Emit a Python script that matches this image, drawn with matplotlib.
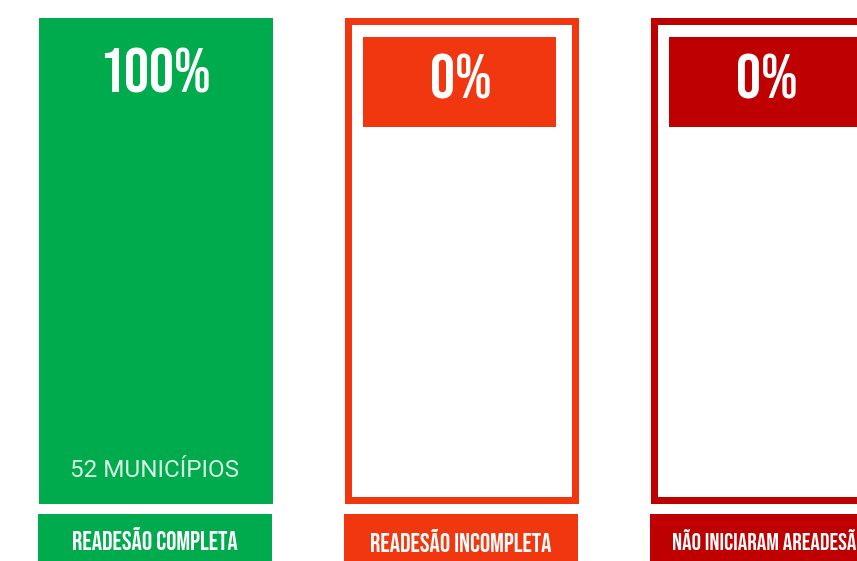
import matplotlib
matplotlib.use('Agg')
import matplotlib.pyplot as plt
from matplotlib.patches import Rectangle

# ---- data ----
categories = ['READESÃO COMPLETA', 'READESÃO INCOMPLETA', 'NÃO INICIARAM AREADESÃO']
percentages = [100, 0, 0]
pct_labels = ['100%', '0%', '0%']
count_labels = ['52 MUNICÍPIOS', '', '']
colors = ['#00AB4E', '#F0370F', '#BE0000']

# ---- layout (pixels) ----
W, H = 857, 561
panel_left = [38, 344, 650]
panel_w = 234
top, bottom = 17, 503
border = 7
pct_baseline = [92, 98, 98]
label_baseline = [550, 552, 550]
label_size = [18.5, 18.5, 17]

bebas = ['Bebas Neue', 'DejaVu Sans']

fig = plt.figure(figsize=(W / 100, H / 100), dpi=100)
fig.patch.set_facecolor('white')

for i, (pct, c) in enumerate(zip(percentages, colors)):
    l = panel_left[i]
    x0 = (l + border / 2) / W
    y0 = 1 - (bottom - border / 2) / H
    ax = fig.add_axes([x0, y0, (panel_w - border) / W, (bottom - top - border) / H])
    ax.set_xlim(0, 1)
    ax.set_ylim(0, 100)
    ax.bar(0.5, pct, width=1.0, color=c, linewidth=0)
    ax.set_xticks([])
    ax.set_yticks([])
    for s in ax.spines.values():
        s.set_color(c)
        s.set_linewidth(border * 72 / 100)
    ax.set_facecolor('white')

ov = fig.add_axes([0, 0, 1, 1], zorder=10)
ov.set_xlim(0, W)
ov.set_ylim(H, 0)
ov.axis('off')
ov.patch.set_alpha(0)

for i, c in enumerate(colors):
    l = panel_left[i]
    cx = l + panel_w / 2
    # percent box
    ov.add_patch(Rectangle((l + 19, 37), 193, 90, color=c, linewidth=0))
    ov.text(cx, pct_baseline[i], pct_labels[i], ha='center', va='baseline',
            color='white', fontsize=45, family=bebas)
    if count_labels[i]:
        ov.text(cx, 477, count_labels[i], ha='center', va='baseline',
                color='white', alpha=0.85, fontsize=17.5, family=['Roboto', 'DejaVu Sans'])
    # label box
    ov.add_patch(Rectangle((l, 514), panel_w, 60, color=c, linewidth=0))
    if i < 2:
        ov.text(cx, label_baseline[i], categories[i], ha='center', va='baseline',
                color='white', fontsize=label_size[i], family=bebas)
    else:
        ov.text(l + 22, label_baseline[i], categories[i], ha='left', va='baseline',
                color='white', fontsize=label_size[i], family=bebas)

fig.savefig('out.png', dpi=100)
